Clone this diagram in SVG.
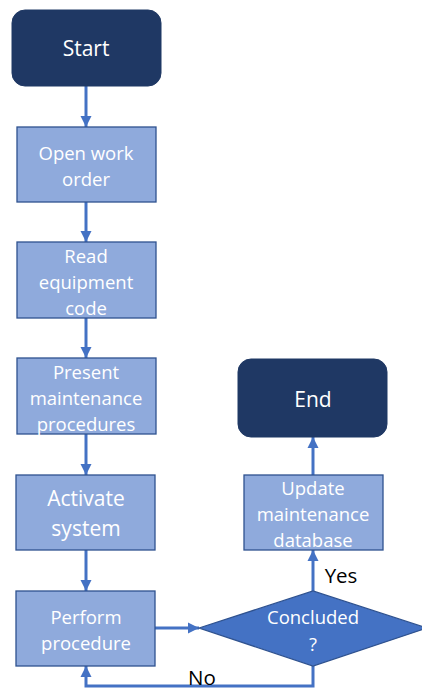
<svg xmlns="http://www.w3.org/2000/svg" width="422" height="690" viewBox="0 0 422 690">
<style>
.term{fill:#1F3864;stroke:#1F3864;stroke-width:1}
.proc{fill:#8FAADC;stroke:#2F528F;stroke-width:1.3}
.dec{fill:#4472C4;stroke:#2F528F;stroke-width:1.3}
.t{font-family:"Open Sans","Liberation Sans",sans-serif;fill:#FFFFFF;text-anchor:middle;dominant-baseline:central}
.s{font-size:18.5px}
.l{font-size:21px}
.lab{font-family:"Open Sans","Liberation Sans",sans-serif;fill:#000000;font-size:20.5px;text-anchor:middle;dominant-baseline:central}
.c{fill:none;stroke:#4472C4;stroke-width:3}
</style>
<defs>
<marker id="ah" viewBox="0 0 10 10" refX="10" refY="5" markerWidth="11" markerHeight="12" markerUnits="userSpaceOnUse" orient="auto">
<path d="M0,0 L10,5 L0,10 z" fill="#4472C4"/>
</marker>
</defs>
<rect width="422" height="690" fill="#FFFFFF"/>
<g id="connectors">
<path class="c" d="M86,86 V127" marker-end="url(#ah)"/>
<path class="c" d="M86,202 V242" marker-end="url(#ah)"/>
<path class="c" d="M86,318 V358" marker-end="url(#ah)"/>
<path class="c" d="M86,434 V475" marker-end="url(#ah)"/>
<path class="c" d="M86,550 V591" marker-end="url(#ah)"/>
<path class="c" d="M155,628 H199" marker-end="url(#ah)"/>
<path class="c" d="M313,591 V550" marker-end="url(#ah)"/>
<path class="c" d="M313,475 V437" marker-end="url(#ah)"/>
<path class="c" d="M313,666 V686 H86 V666" marker-end="url(#ah)"/>
<text class="lab" x="341" y="575">Yes</text>
<text class="lab" x="202" y="677">No</text>
</g>
<g id="start">
<rect class="term" x="12" y="10" width="149" height="76" rx="13"/>
<text class="t l" x="86" y="48">Start</text>
</g>
<g id="open">
<rect class="proc" x="17" y="127" width="139" height="75"/>
<text class="t s" x="86" y="152">Open work</text>
<text class="t s" x="86" y="178">order</text>
</g>
<g id="read">
<rect class="proc" x="17" y="242" width="139" height="76"/>
<text class="t s" x="86" y="255">Read</text>
<text class="t s" x="86" y="281">equipment</text>
<text class="t s" x="86" y="307">code</text>
</g>
<g id="present">
<rect class="proc" x="17" y="358" width="139" height="76"/>
<text class="t s" x="86" y="371">Present</text>
<text class="t s" x="86" y="397">maintenance</text>
<text class="t s" x="86" y="423">procedures</text>
</g>
<g id="activate">
<rect class="proc" x="16" y="475" width="139" height="75"/>
<text class="t l" x="86" y="498">Activate</text>
<text class="t l" x="86" y="528">system</text>
</g>
<g id="perform">
<rect class="proc" x="16" y="591" width="139" height="75"/>
<text class="t s" x="86" y="616">Perform</text>
<text class="t s" x="86" y="642">procedure</text>
</g>
<g id="concluded">
<polygon class="dec" points="199,628 313,591 427,628 313,666"/>
<text class="t s" x="313" y="616">Concluded</text>
<text class="t s" x="313" y="643">?</text>
</g>
<g id="update">
<rect class="proc" x="244" y="475" width="139" height="75"/>
<text class="t s" x="313" y="487">Update</text>
<text class="t s" x="313" y="513">maintenance</text>
<text class="t s" x="313" y="539">database</text>
</g>
<g id="end">
<rect class="term" x="238" y="359" width="149" height="78" rx="13"/>
<text class="t l" x="313" y="399">End</text>
</g>
</svg>
